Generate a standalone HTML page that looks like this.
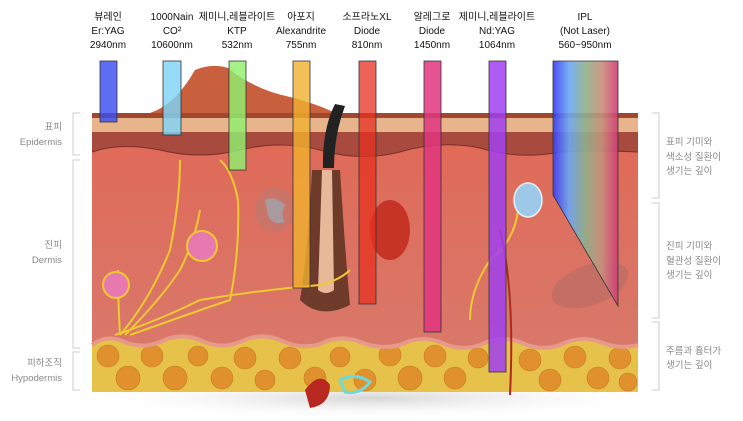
<!DOCTYPE html>
<html><head><meta charset="utf-8"><style>
html,body{margin:0;padding:0;background:#fff;width:743px;height:421px;overflow:hidden}
svg{display:block}
text{font-family:"Liberation Sans","Noto Sans CJK KR",sans-serif;}
</style></head><body>
<svg width="743" height="421" viewBox="0 0 743 421" xmlns="http://www.w3.org/2000/svg">
<defs>
<linearGradient id="ipl" x1="0" x2="1" y1="0" y2="0">
<stop offset="0" stop-color="#3a3cf5"/><stop offset="0.25" stop-color="#6aa8f5"/><stop offset="0.5" stop-color="#8fb08a"/><stop offset="0.75" stop-color="#c8907a"/><stop offset="1" stop-color="#d23a78"/></linearGradient>
<linearGradient id="derm" x1="0" x2="0" y1="0" y2="1"><stop offset="0" stop-color="#e06a58"/><stop offset="1" stop-color="#d9786a"/></linearGradient>
<radialGradient id="sh" cx="0.5" cy="0.5" r="0.5"><stop offset="0" stop-color="#bbb" stop-opacity="0.6"/><stop offset="1" stop-color="#fff" stop-opacity="0"/></radialGradient>
</defs>
<ellipse cx="370" cy="398" rx="300" ry="22" fill="url(#sh)"/>
<!-- fat layer -->
<rect x="92" y="335" width="546" height="57" fill="#e6c24a"/>
<g fill="#e0912e" stroke="#c77a22" stroke-width="0.6">
<circle cx="108" cy="356" r="11"/><circle cx="128" cy="378" r="12"/><circle cx="152" cy="356" r="11"/><circle cx="175" cy="378" r="12"/><circle cx="198" cy="356" r="10"/><circle cx="222" cy="378" r="11"/><circle cx="245" cy="358" r="11"/><circle cx="265" cy="380" r="10"/><circle cx="290" cy="358" r="11"/><circle cx="315" cy="378" r="11"/><circle cx="340" cy="357" r="10"/><circle cx="365" cy="380" r="11"/><circle cx="390" cy="355" r="11"/><circle cx="410" cy="378" r="12"/><circle cx="435" cy="356" r="11"/><circle cx="455" cy="378" r="11"/><circle cx="478" cy="358" r="10"/><circle cx="530" cy="360" r="11"/><circle cx="550" cy="380" r="11"/><circle cx="575" cy="357" r="11"/><circle cx="598" cy="378" r="11"/><circle cx="620" cy="358" r="11"/><circle cx="628" cy="382" r="9"/>
</g>
<!-- dermis -->
<path d="M92 140 L638 140 L638 345 Q620 350 600 342 Q580 335 560 345 Q540 352 520 342 Q500 335 480 345 Q460 352 440 342 Q420 335 400 345 Q380 350 360 342 Q340 334 320 344 Q300 350 280 340 Q260 332 240 342 Q220 350 200 340 Q180 332 160 342 Q140 350 120 340 Q105 335 92 345 Z" fill="url(#derm)"/>
<path d="M92 345 Q105 335 120 340 Q140 350 160 342 Q180 332 200 340 Q220 350 240 342 Q260 332 280 340 Q300 350 320 344 Q340 334 360 342 Q380 350 400 345 Q420 335 440 342 Q460 352 480 345 Q500 335 520 342 Q540 352 560 345 Q580 335 600 342 Q620 350 638 345" fill="none" stroke="#e89a8a" stroke-width="4"/>
<!-- dark epidermis layer -->
<path d="M92 132 L638 132 L638 152 Q600 150 560 152 Q520 160 480 148 Q440 140 400 152 Q360 162 320 150 Q280 140 240 150 Q200 160 160 150 Q120 142 92 152 Z" fill="#a84a3e"/>
<path d="M92 152 Q120 142 160 150 Q200 160 240 150 Q280 140 320 150 Q360 162 400 152 Q440 140 480 148 Q520 160 560 152 Q600 150 638 152" fill="none" stroke="#7a3028" stroke-width="1"/>
<rect x="92" y="118" width="546" height="14" fill="#e7b48c"/>
<rect x="92" y="113" width="546" height="5" fill="#a0482e"/>
<path d="M150 113 Q175 105 195 70 Q212 63 228 68 Q255 90 290 97 Q320 105 335 113 Z" fill="#c8603e"/>
<!-- hair follicle -->
<path d="M312 170 Q308 250 300 300 Q320 320 350 305 Q345 250 340 170 Z" fill="#6e3a2a"/>
<path d="M322 170 L318 290 Q326 296 334 290 L332 170 Z" fill="#e8b89a"/>
<path d="M323 168 Q322 130 335 104 L345 106 Q334 135 334 168 Z" fill="#222"/>
<ellipse cx="390" cy="230" rx="20" ry="30" fill="#c63428"/>
<ellipse cx="275" cy="210" rx="20" ry="22" fill="#c9756a"/>
<path d="M265 200 Q275 195 285 205 Q280 215 285 222 Q272 226 268 215 Z" fill="#a99aa0"/>
<ellipse cx="590" cy="285" rx="40" ry="20" fill="#c56e66" transform="rotate(-20 590 285)"/>
<g fill="none" stroke="#f0c832" stroke-width="2">
<path d="M115 335 Q160 320 200 300 Q260 290 320 285 Q340 280 350 270"/>
<path d="M120 335 Q150 300 170 250 Q180 200 180 160"/>
<path d="M125 335 Q160 300 180 270 Q195 240 200 210"/>
<path d="M130 335 Q200 310 230 300 Q240 250 238 200 Q232 170 220 160"/>
<path d="M120 335 Q118 300 118 270"/>
<path d="M470 320 Q470 290 490 260 Q515 240 518 210"/>
</g>
<circle cx="116" cy="285" r="13" fill="#e878b0" stroke="#f0c832" stroke-width="2"/>
<circle cx="202" cy="246" r="15" fill="#e878b0" stroke="#f0c832" stroke-width="2"/>
<ellipse cx="528" cy="200" rx="14" ry="17" fill="#9ec8e8" stroke="#e8f0f8" stroke-width="1.5"/>
<path d="M305 390 Q320 370 330 385 Q330 405 310 408 Z" fill="#b82820"/>
<path d="M340 380 Q355 372 370 382 Q360 395 345 392 Z" fill="none" stroke="#6fd8d8" stroke-width="3"/>
<path d="M500 230 Q515 290 510 395" fill="none" stroke="#b02a22" stroke-width="2"/>
<g stroke="#333" stroke-width="0.8">
<rect x="100" y="61" width="17" height="61" fill="#3b4ef0" fill-opacity="0.82"/>
<rect x="163" y="61" width="18" height="74" fill="#7fd4f8" fill-opacity="0.82"/>
<rect x="229" y="61" width="17" height="109" fill="#8ff070" fill-opacity="0.82"/>
<rect x="293" y="61" width="17" height="227" fill="#f0b030" fill-opacity="0.8"/>
<rect x="359" y="61" width="17" height="243" fill="#e63020" fill-opacity="0.75"/>
<rect x="424" y="61" width="17" height="271" fill="#e0357f" fill-opacity="0.85"/>
<rect x="489" y="61" width="17" height="311" fill="#a040f0" fill-opacity="0.85"/>
<path d="M553 61 L618 61 L618 306 L553 195 Z" fill="url(#ipl)" fill-opacity="0.9"/>
</g>
<g font-size="10" fill="#111" text-anchor="middle">
<text x="108" y="20">뷰레인</text><text x="108" y="34">Er:YAG</text><text x="108" y="48">2940nm</text>
<text x="172" y="20">1000Nain</text><text x="172" y="34">CO²</text><text x="172" y="48">10600nm</text>
<text x="237" y="20">제미니,레블라이트</text><text x="237" y="34">KTP</text><text x="237" y="48">532nm</text>
<text x="301" y="20">아포지</text><text x="301" y="34">Alexandrite</text><text x="301" y="48">755nm</text>
<text x="367" y="20">소프라노XL</text><text x="367" y="34">Diode</text><text x="367" y="48">810nm</text>
<text x="432" y="20">알레그로</text><text x="432" y="34">Diode</text><text x="432" y="48">1450nm</text>
<text x="497" y="20">제미니,레블라이트</text><text x="497" y="34">Nd:YAG</text><text x="497" y="48">1064nm</text>
<text x="585" y="20">IPL</text><text x="585" y="34">(Not Laser)</text><text x="585" y="48">560~950nm</text>
</g>
<g fill="none" stroke="#ccc" stroke-width="1">
<path d="M80 113 H73 V155 H80"/><path d="M80 160 H73 V348 H80"/><path d="M80 352 H73 V390 H80"/>
<path d="M652 113 H659 V198 H652"/><path d="M652 203 H659 V318 H652"/><path d="M652 322 H659 V390 H652"/>
</g>
<g font-size="9.5" fill="#888">
<g text-anchor="end"><text x="62" y="130">표피</text><text x="62" y="145">Epidermis</text>
<text x="62" y="248">진피</text><text x="62" y="263">Dermis</text>
<text x="62" y="366">피하조직</text><text x="62" y="381">Hypodermis</text></g>
<text x="666" y="145">표피 기미와</text><text x="666" y="160">색소성 질환이</text><text x="666" y="174">생기는 깊이</text>
<text x="666" y="249">진피 기미와</text><text x="666" y="264">혈관성 질환이</text><text x="666" y="278">생기는 깊이</text>
<text x="666" y="354">주름과 흉터가</text><text x="666" y="368">생기는 깊이</text>
</g>
</svg>
</body></html>
